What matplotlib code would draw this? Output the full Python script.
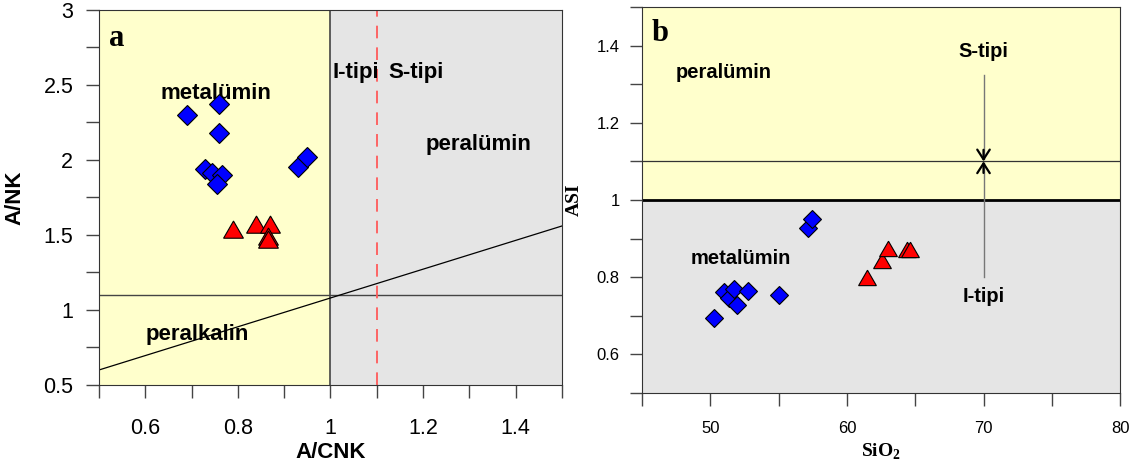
import matplotlib
matplotlib.use("Agg")
import matplotlib.pyplot as plt

plt.rcParams['font.family'] = ['Liberation Sans', 'DejaVu Sans']

# panel a: A/CNK vs A/NK
acnk_dia = [0.69, 0.76, 0.76, 0.73, 0.745, 0.765, 0.755, 0.93, 0.95]
ank_dia = [2.30, 2.37, 2.18, 1.94, 1.91, 1.90, 1.84, 1.95, 2.02]
acnk_tri = [0.79, 0.84, 0.87, 0.865, 0.865]
ank_tri = [1.52, 1.55, 1.55, 1.47, 1.45]

# panel b: SiO2 vs ASI
sio2_dia = [50.25, 50.97, 51.4, 51.7, 51.98, 52.73, 55.0, 57.17, 57.44]
asi_dia = [0.695, 0.762, 0.747, 0.769, 0.728, 0.764, 0.755, 0.928, 0.952]
sio2_tri = [61.5, 62.6, 63.0, 64.4, 64.6]
asi_tri = [0.792, 0.837, 0.867, 0.864, 0.864]

# axis ticks
a_xmajor = [0.6, 0.8, 1.0, 1.2, 1.4]
a_xlabels = ['0.6', '0.8', '1', '1.2', '1.4']
a_xminor = [0.5, 0.7, 0.9, 1.1, 1.3, 1.5]
a_ymajor = [0.5, 1.0, 1.5, 2.0, 2.5, 3.0]
a_ylabels = ['0.5', '1', '1.5', '2', '2.5', '3']
a_yminor = [0.75, 1.25, 1.75, 2.25, 2.75]

b_xmajor = [50, 60, 70, 80]
b_xlabels = ['50', '60', '70', '80']
b_xminor = [45, 55, 65, 75]
b_ymajor = [0.6, 0.8, 1.0, 1.2, 1.4]
b_ylabels = ['0.6', '0.8', '1', '1.2', '1.4']
b_yminor = [0.5, 0.7, 0.9, 1.1, 1.3, 1.5]

YELLOW = '#FFFFCC'
GRAY = '#E5E5E5'
serif = ['Liberation Serif', 'DejaVu Serif']

fig = plt.figure(figsize=(11.39, 4.68), dpi=100)
ax1 = fig.add_axes([0.0869, 0.1774, 0.4065, 0.8013])
ax2 = fig.add_axes([0.5637, 0.1603, 0.4197, 0.8248])

# ---- panel a ----
ax1.set_xlim(0.5, 1.5)
ax1.set_ylim(0.5, 3.0)
ax1.axvspan(0.5, 1.0, color=YELLOW, zorder=0, lw=0)
ax1.axvspan(1.0, 1.5, color=GRAY, zorder=0, lw=0)
ax1.axvline(1.0, color='#444444', lw=1.2, zorder=1)
ax1.axhline(1.1, color='#444444', lw=1.0, zorder=1)
ax1.plot([0.5, 1.5], [0.6, 1.56], color='black', lw=0.9, zorder=1)
ax1.axvline(1.1, color='#FF5A5A', lw=1.3, dashes=(7, 5), zorder=1)

ax1.text(0.522, 2.81, 'a', family=serif, fontweight='bold', fontsize=22, va='center')
ax1.text(0.632, 2.44, 'metalümin', fontweight='bold', fontsize=16, va='center', zorder=2)
ax1.text(1.005, 2.58, 'I-tipi', fontweight='bold', fontsize=16, va='center', zorder=2)
ax1.text(1.124, 2.58, 'S-tipi', fontweight='bold', fontsize=16, va='center', zorder=2)
ax1.text(1.206, 2.105, 'peralümin', fontweight='bold', fontsize=16, va='center', zorder=2)
ax1.text(0.60, 0.835, 'peralkalin', fontweight='bold', fontsize=16, va='center', zorder=2)

ax1.plot(acnk_dia, ank_dia, 'D', ms=10, mfc='#0000FF', mec='black', mew=0.8, zorder=3)
ax1.plot(acnk_tri, ank_tri, marker=(3, 0, 0), ls='none', ms=16.5,
         mfc='#FF0000', mec='black', mew=0.8, zorder=3)

ax1.set_xticks(a_xmajor, a_xlabels)
ax1.set_xticks(a_xminor, minor=True)
ax1.set_yticks(a_ymajor, a_ylabels)
ax1.set_yticks(a_yminor, minor=True)
ax1.tick_params(axis='both', which='both', direction='out', length=9.5,
                width=1.0, color='#444444', labelsize=15.5)
ax1.tick_params(axis='x', which='major', pad=14)
ax1.tick_params(axis='y', which='major', pad=9)
ax1.set_xlabel('A/CNK', fontweight='bold', fontsize=16)
ax1.set_ylabel('A/NK', fontweight='bold', fontsize=16)
ax1.xaxis.set_label_coords(0.5, -0.152)
ax1.yaxis.set_label_coords(-0.158, 0.5)
for s in ax1.spines.values():
    s.set_color('#333333')

# ---- panel b ----
ax2.set_xlim(45, 80)
ax2.set_ylim(0.5, 1.5)
ax2.axhspan(1.0, 1.5, color=YELLOW, zorder=0, lw=0)
ax2.axhspan(0.5, 1.0, color=GRAY, zorder=0, lw=0)
ax2.axhline(1.0, color='black', lw=2.0, zorder=1)
ax2.axhline(1.1, color='#333333', lw=0.9, zorder=1)

ax2.plot([70, 70], [1.324, 1.105], color='#777777', lw=1.0, zorder=1)
ax2.plot([70, 70], [0.801, 1.095], color='#777777', lw=1.0, zorder=1)
ax2.annotate('', xy=(70, 1.1), xytext=(70, 1.13),
             arrowprops=dict(arrowstyle='->,head_length=0.7,head_width=0.45',
                             color='black', lw=1.6, shrinkA=0, shrinkB=0))
ax2.annotate('', xy=(70, 1.1), xytext=(70, 1.07),
             arrowprops=dict(arrowstyle='->,head_length=0.7,head_width=0.45',
                             color='black', lw=1.6, shrinkA=0, shrinkB=0))

ax2.text(45.7, 1.43, 'b', family=serif, fontweight='bold', fontsize=22, va='center')
ax2.text(70, 1.384, 'S-tipi', fontweight='bold', fontsize=14.5, ha='center', va='center')
ax2.text(70, 0.749, 'I-tipi', fontweight='bold', fontsize=14.5, ha='center', va='center')
ax2.text(47.45, 1.33, 'peralümin', fontweight='bold', fontsize=14.5, va='center')
ax2.text(48.57, 0.849, 'metalümin', fontweight='bold', fontsize=14.5, va='center')

ax2.plot(sio2_dia, asi_dia, 'D', ms=9.3, mfc='#0000FF', mec='black', mew=0.8, zorder=3)
ax2.plot(sio2_tri, asi_tri, marker=(3, 0, 0), ls='none', ms=14.8,
         mfc='#FF0000', mec='black', mew=0.8, zorder=3)

ax2.set_xticks(b_xmajor, b_xlabels)
ax2.set_xticks(b_xminor, minor=True)
ax2.set_yticks(b_ymajor, b_ylabels)
ax2.set_yticks(b_yminor, minor=True)
ax2.tick_params(axis='both', which='both', direction='out', length=9,
                width=1.0, color='#444444', labelsize=12)
ax2.tick_params(axis='x', which='major', pad=11)
ax2.tick_params(axis='y', which='major', pad=7)
ax2.set_xlabel('SiO$_\\mathregular{2}$', family=serif, fontweight='bold', fontsize=14)
ax2.set_ylabel('ASI', family=serif, fontweight='bold', fontsize=14)
ax2.xaxis.set_label_coords(0.5, -0.126)
ax2.yaxis.set_label_coords(-0.123, 0.5)
for s in ax2.spines.values():
    s.set_color('#333333')

fig.savefig('out.png', dpi=100)
